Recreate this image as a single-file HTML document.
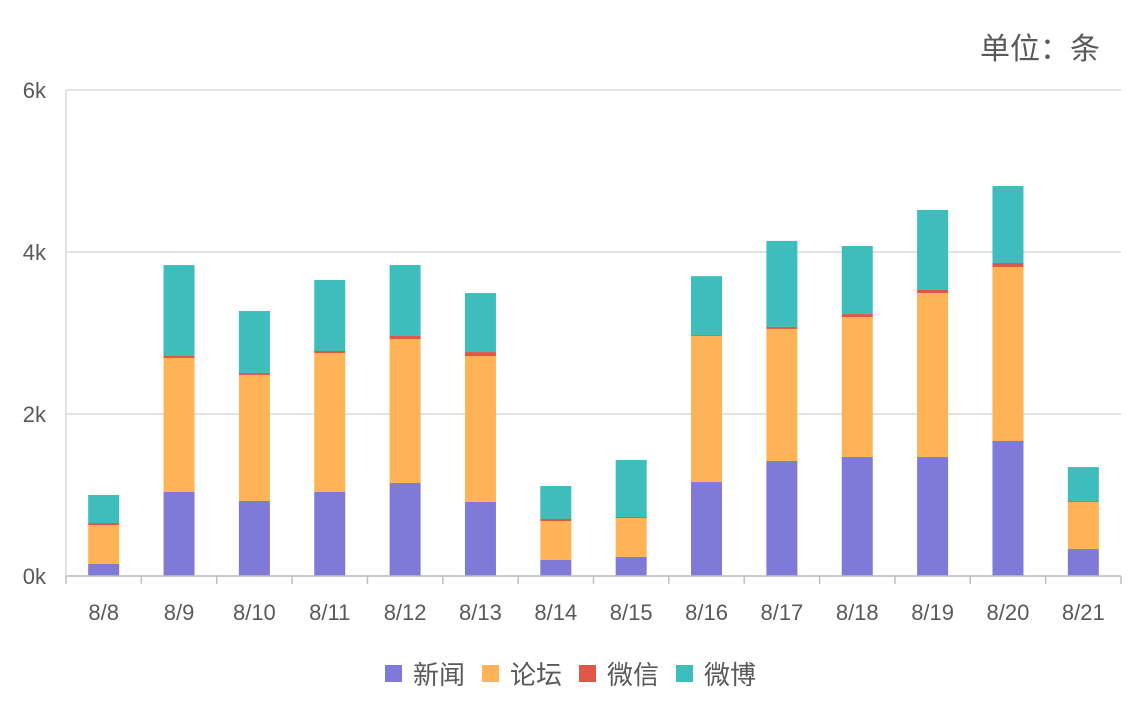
<!DOCTYPE html>
<html><head><meta charset="utf-8"><style>
body{margin:0;background:#fff;}
svg text{font-family:"Liberation Sans","Noto Sans CJK SC",sans-serif;fill:#595959;}
</style></head><body>
<svg id="chart" width="1145" height="715" xmlns="http://www.w3.org/2000/svg">
<text x="1100" y="59" text-anchor="end" font-size="30">单位：条</text>
<g id="grid"></g><g id="bars"></g><g id="axes"></g>
<g font-size="26">
<rect x="385" y="665" width="17" height="17" fill="#7f79d8"/><text x="413" y="684">新闻</text>
<rect x="482" y="665" width="17" height="17" fill="#ffb357"/><text x="510" y="684">论坛</text>
<rect x="579" y="665" width="17" height="17" fill="#e0574a"/><text x="607" y="684">微信</text>
<rect x="676" y="665" width="17" height="17" fill="#3dbdbb"/><text x="704" y="684">微博</text>
</g>
</svg>
<script>
const categories=["8/8","8/9","8/10","8/11","8/12","8/13","8/14","8/15","8/16","8/17","8/18","8/19","8/20","8/21"];
const news=[148,1037,926,1037,1148,914,198,235,1160,1420,1469,1469,1667,333];
const forum=[481,1654,1556,1716,1778,1802,481,481,1802,1630,1728,2025,2148,580];
const wechat=[25,25,25,25,37,49,25,12,12,25,37,37,49,12];
const weibo=[346,1123,765,877,877,728,407,704,728,1062,840,988,951,420];
const yTicks=[0,2000,4000,6000];
const yTickLabels=["0k","2k","4k","6k"];
const NS="http://www.w3.org/2000/svg";
const X0=66,X1=1121,Y0=576,Y1=90,YMAX=6000;
const bw=(X1-X0)/categories.length;
function y(v){return Y0-(v/YMAX)*(Y0-Y1);}
function xc(i){return X0+bw*(i+0.5);}
function mk(tag,attrs,parent){const e=document.createElementNS(NS,tag);for(const k in attrs)e.setAttribute(k,attrs[k]);parent.appendChild(e);return e;}
const grid=document.getElementById('grid'),bars=document.getElementById('bars'),axes=document.getElementById('axes');
yTicks.forEach((t,i)=>{
 const l=mk('line',{x1:X0,x2:X1,y1:y(t),y2:y(t),stroke:'#d9d9d9','stroke-width':1.5},grid);
 
 
 const tx=mk('text',{x:46,y:y(t)+8,'text-anchor':'end','font-size':22},axes);
 tx.textContent=yTickLabels[i];
 
 
});
const vl=mk('line',{x1:X0,x2:X0,y1:Y1,y2:Y0,stroke:'#d9d9d9','stroke-width':1.5},axes);


const xl=mk('line',{x1:X0,x2:X1,y1:Y0,y2:Y0,stroke:'#bfbfbf','stroke-width':1.5},axes);


for(let i=0;i<=categories.length;i++){
 const t=mk('line',{x1:X0+bw*i,x2:X0+bw*i,y1:Y0,y2:Y0+8,stroke:'#bfbfbf','stroke-width':1.5},axes);
 
 
}
const series=[[news,'#7f79d8','news'],[forum,'#ffb357','forum'],[wechat,'#e0574a','wechat'],[weibo,'#3dbdbb','weibo']];
categories.forEach((c,i)=>{
 let acc=0;
 series.forEach(([arr,col,nm])=>{
  const v=arr[i];
  const r=mk('rect',{x:xc(i)-15.5,width:31,y:y(acc+v),height:y(acc)-y(acc+v),fill:col},bars);
  
  
  acc+=v;
 });
 const tx=mk('text',{x:xc(i),y:620,'text-anchor':'middle','font-size':22},axes);
 tx.textContent=c;
 
 
});
</script>
</body></html>
